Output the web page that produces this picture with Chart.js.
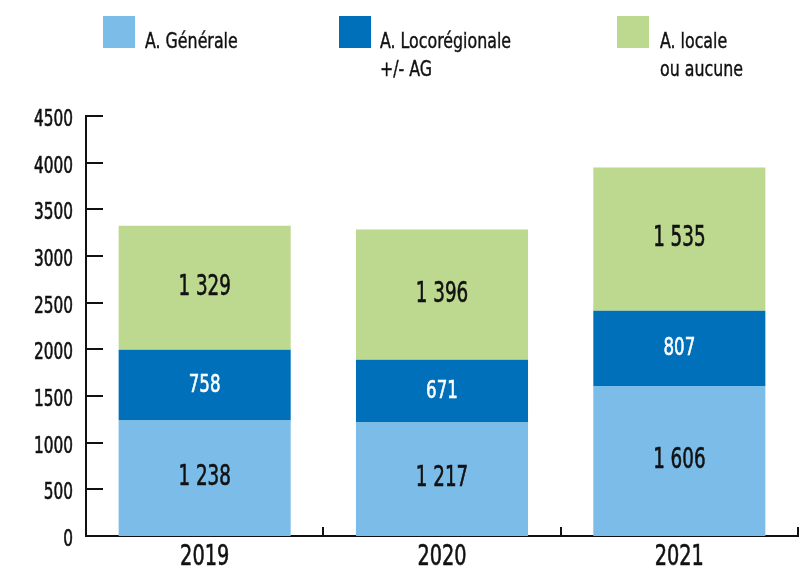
<!DOCTYPE html>
<html>
<head>
<meta charset="utf-8">
<script src="https://cdn.jsdelivr.net/npm/chart.js@4.4.0/dist/chart.umd.min.js"></script>
<style>
  body { margin: 0; background: #fff; }
  #wrap { position: relative; width: 806px; height: 579px; }
  #legend { position: absolute; left: 0; top: 0; width: 806px; height: 100px; font-family: 'DejaVu Sans Condensed', sans-serif; font-size: 22px; color: #111; -webkit-text-stroke: 0.4px #111; }
  .item { position: absolute; top: 16px; }
  .box { position: absolute; left: 0; top: 0; width: 32px; height: 32px; }
  .txt { position: absolute; top: 11px; white-space: nowrap; line-height: 28px; transform: scaleX(0.8); transform-origin: 0 0; }
</style>
</head>
<body>
<div id="wrap">
  <canvas id="chart" width="806" height="579"></canvas>
  <div id="legend"></div>
</div>
<script>
const years = ["2019", "2020", "2021"];
const seriesNames = ["A. Générale", "A. Locorégionale\n+/- AG", "A. locale\nou aucune"];
const generale = [1238, 1217, 1606];
const locoregionale = [758, 671, 807];
const locale = [1329, 1396, 1535];
const seriesColors = ["#7bbde8", "#0070ba", "#bdd88f"];
const labelColors = ["#111111", "#ffffff", "#111111"];
const yTicks = [0, 500, 1000, 1500, 2000, 2500, 3000, 3500, 4000, 4500];

const fontFamily = "'DejaVu Sans Condensed', sans-serif";
const squeeze = 0.74; // the source font is a narrow DIN-like face
Chart.defaults.font.family = fontFamily;
Chart.defaults.color = '#111';

// legend (html)
const legendX = [103, 339, 617];
const legendGap = [42, 41, 43];
const legend = document.getElementById('legend');
seriesNames.forEach((name, i) => {
  const item = document.createElement('div');
  item.className = 'item';
  item.style.left = legendX[i] + 'px';
  item.innerHTML = `<div class="box" style="background:${seriesColors[i]}"></div>` +
    `<div class="txt" style="left:${legendGap[i]}px">${name.replace('\n', '<br>')}</div>`;
  legend.appendChild(item);
});

const fmt = (v) => String(v).replace(/\B(?=(\d{3})+(?!\d))/g, ' ');

const drawText = (ctx, text, x, y, size, color, align) => {
  ctx.save();
  ctx.translate(x, y);
  ctx.scale(squeeze, 1);
  ctx.font = size + 'px ' + fontFamily;
  ctx.fillStyle = color;
  ctx.strokeStyle = color;
  ctx.lineWidth = 0.6;
  ctx.textAlign = align;
  ctx.textBaseline = 'middle';
  ctx.fillText(text, 0, 0);
  ctx.strokeText(text, 0, 0);
  ctx.restore();
};

const valueLabels = {
  id: 'valueLabels',
  afterDatasetsDraw(chart) {
    chart.data.datasets.forEach((ds, i) => {
      const meta = chart.getDatasetMeta(i);
      meta.data.forEach((bar, j) => {
        drawText(chart.ctx, fmt(ds.data[j]), bar.x, (bar.y + bar.base) / 2,
          i == 1 ? 25 : 27.5, labelColors[i], 'center');
      });
    });
  }
};

// tick marks (inside on y, upward on x) and tick labels in the narrow face
const axisTicks = {
  id: 'axisTicks',
  afterDraw(chart) {
    const ctx = chart.ctx;
    const x = chart.scales.x, y = chart.scales.y;
    ctx.save();
    ctx.strokeStyle = '#111';
    ctx.lineWidth = 2;
    ctx.beginPath();
    y.ticks.forEach((t, i) => {
      const py = Math.round(y.getPixelForTick(i));
      ctx.moveTo(x.left, py);
      ctx.lineTo(x.left + 17, py);
    });
    for (let i = 0; i <= years.length; i++) {
      const px = Math.round(x.getPixelForValue(i - 0.5));
      ctx.moveTo(px, y.bottom);
      ctx.lineTo(px, y.bottom - 9);
    }
    ctx.stroke();
    ctx.restore();

    y.ticks.forEach((t, i) => {
      drawText(ctx, String(t.value), x.left - 13, y.getPixelForTick(i) + 4, 23, '#111', 'right');
    });
    years.forEach((yr, i) => {
      drawText(ctx, yr, x.getPixelForValue(i), y.bottom + 21, 29, '#111', 'center');
    });
  }
};

const makeSet = (label, data, i) => ({
  label: label,
  data: data,
  backgroundColor: seriesColors[i],
  borderWidth: 0,
  categoryPercentage: 1,
  barPercentage: 0.725
});

new Chart(document.getElementById('chart'), {
  type: 'bar',
  data: {
    labels: years,
    datasets: [
      makeSet(seriesNames[0], generale, 0),
      makeSet(seriesNames[1], locoregionale, 1),
      makeSet(seriesNames[2], locale, 2)
    ]
  },
  options: {
    responsive: false,
    animation: false,
    layout: { padding: { top: 116, right: 8, left: 0, bottom: 0 } },
    plugins: { legend: { display: false }, tooltip: { enabled: false } },
    scales: {
      x: {
        stacked: true,
        grid: { display: false, drawTicks: false },
        border: { display: true, color: '#111', width: 2 },
        ticks: { display: false },
        afterFit: (s) => { s.height = 43; }
      },
      y: {
        stacked: true,
        min: 0,
        max: 4500,
        afterBuildTicks: (s) => { s.ticks = yTicks.map(v => ({ value: v })); },
        grid: { display: false, drawTicks: false },
        border: { display: true, color: '#111', width: 2 },
        ticks: { display: false },
        afterFit: (s) => { s.width = 86; }
      }
    }
  },
  plugins: [valueLabels, axisTicks]
});
</script>
</body>
</html>
